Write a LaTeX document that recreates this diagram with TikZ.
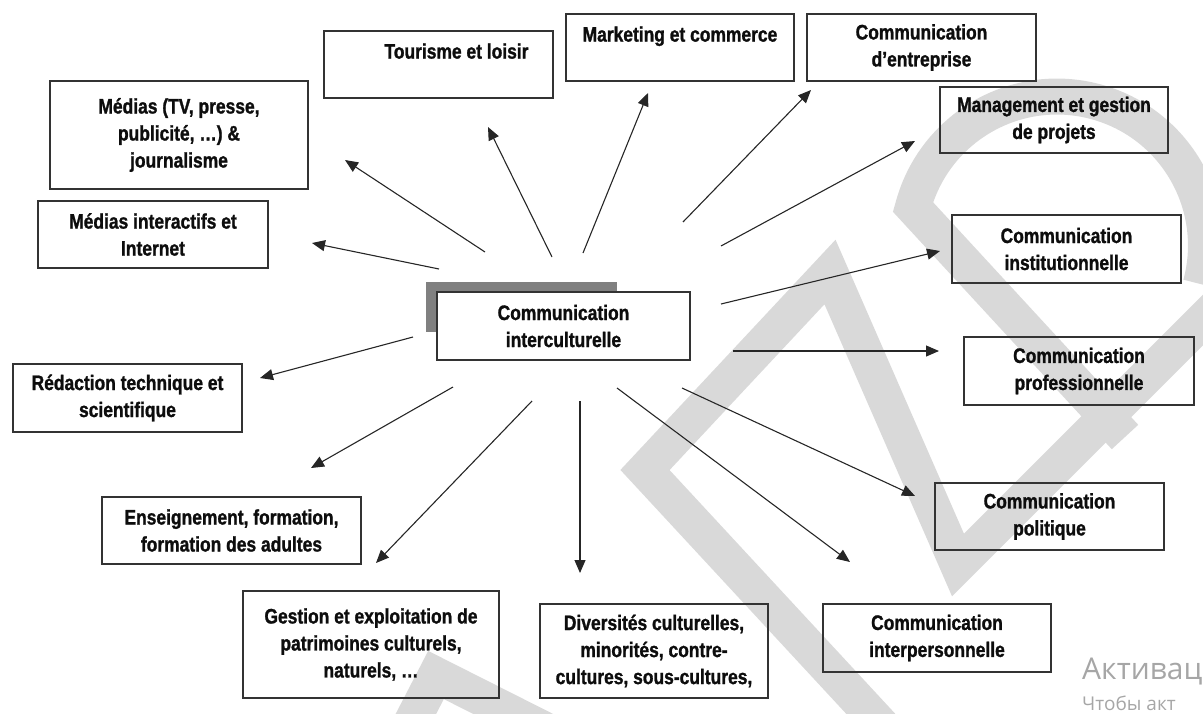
\documentclass[tikz,border=0pt]{standalone}
\usepackage{fontspec}
\setmainfont{Liberation Sans}[FakeStretch=0.83, BoldFeatures={FakeBold=1.2}]
\newfontfamily\notefont{Open Sans}
\usetikzlibrary{arrows.meta}

\tikzset{
  box/.style={draw=black!80, line width=1.2pt, inner sep=0pt, align=center,
    font=\bfseries\fontsize{21}{27}\selectfont, text=black!95},
  link/.style={-{Triangle[length=13pt,width=11pt]}, line width=1.1pt, draw=black!85},
  wmark/.style={draw=black!15, line width=36pt, line join=miter}
}

\begin{document}
\begin{tikzpicture}[x=1pt,y=-1pt]
\useasboundingbox (0,0) rectangle (1203,713);
\clip (0,0) rectangle (1203,713);

% light watermark strokes: a slanted M and D
\draw[wmark] (895,740) -- (645,470) -- (830,272) -- (958,565) -- (1230,293);
\draw[wmark] (1125,437) -- (913,207) arc[start angle=195, end angle=375, radius=149];
\draw[wmark] (405,735) -- (436,675) -- (545,730);

% shadow of the central box
\fill[black!50] (426,282) rectangle (617,332);

% boxes
\node[box, fill=white, minimum width=253pt, minimum height=68pt] (ci) at (563.5,326) {Communication\\interculturelle};
\node[box, minimum width=258pt, minimum height=108pt] (medias) at (179,135) {Médias (TV, presse,\\publicité, …) \&\\journalisme};
\node[box, minimum width=230pt, minimum height=67pt] (inter) at (153,234.5) {Médias interactifs et\\Internet};
\node[box, minimum width=229pt, minimum height=67pt] (tour) at (438.5,64.5) {\hspace*{36pt}Tourisme et loisir\\~};
\node[box, minimum width=228pt, minimum height=67pt] (mark) at (680,47.5) {Marketing et commerce\\~};
\node[box, minimum width=229pt, minimum height=67pt] (entr) at (921.5,47.5) {Communication\\d’entreprise};
\node[box, minimum width=228pt, minimum height=66pt] (manag) at (1054,120) {Management et gestion\\de projets};
\node[box, minimum width=229pt, minimum height=68pt] (inst) at (1066.5,249) {Communication\\institutionnelle};
\node[box, minimum width=230pt, minimum height=68pt] (prof) at (1079,371) {Communication\\professionnelle};
\node[box, minimum width=229pt, minimum height=68pt] (redac) at (127.5,398) {Rédaction technique et\\scientifique};
\node[box, minimum width=259pt, minimum height=67pt] (ens) at (231.5,530.5) {Enseignement, formation,\\formation des adultes};
\node[box, minimum width=256pt, minimum height=107pt] (gest) at (371,644.5) {Gestion et exploitation de\\patrimoines culturels,\\naturels, …};
\node[box, minimum width=228pt, minimum height=94pt] (div) at (654,651) {Diversités culturelles,\\minorités, contre-\\cultures, sous-cultures,};
\node[box, minimum width=229pt, minimum height=67pt] (pol) at (1049.5,516.5) {Communication\\politique};
\node[box, minimum width=228pt, minimum height=68pt] (interp) at (937,638) {Communication\\interpersonnelle};

% arrow ends around the central box
\coordinate (s1) at (485,252);  \coordinate (e1) at (345,160);
\coordinate (s2) at (439,269);  \coordinate (e2) at (312,243);
\coordinate (s3) at (552,257);  \coordinate (e3) at (488,127);
\coordinate (s4) at (583,253);  \coordinate (e4) at (648,93);
\coordinate (s5) at (683,222);  \coordinate (e5) at (811,90);
\coordinate (s6) at (721,246);  \coordinate (e6) at (915,141);
\coordinate (s7) at (721,304);  \coordinate (e7) at (940,251);
\coordinate (s8) at (733,351);  \coordinate (e8) at (939,351);
\coordinate (s9) at (682,388);  \coordinate (e9) at (915,496);
\coordinate (s10) at (617,388); \coordinate (e10) at (850,562);
\coordinate (s11) at (580,401); \coordinate (e11) at (580,573);
\coordinate (s12) at (532,401); \coordinate (e12) at (376,563);
\coordinate (s13) at (453,387); \coordinate (e13) at (311,468);
\coordinate (s14) at (413,337); \coordinate (e14) at (260,378);

\foreach \i in {1,...,14} { \draw[link] (s\i) -- (e\i); }

% system notice in the corner
\node[anchor=base west, font=\notefont\fontsize{30}{32}\selectfont, text=black!35, inner sep=0pt] (act) at (1082,679) {Активац};
\node[anchor=base west, font=\notefont\fontsize{19}{21}\selectfont, text=black!35, inner sep=0pt] (act2) at (1082,710) {Чтобы акт};
\end{tikzpicture}
\end{document}
